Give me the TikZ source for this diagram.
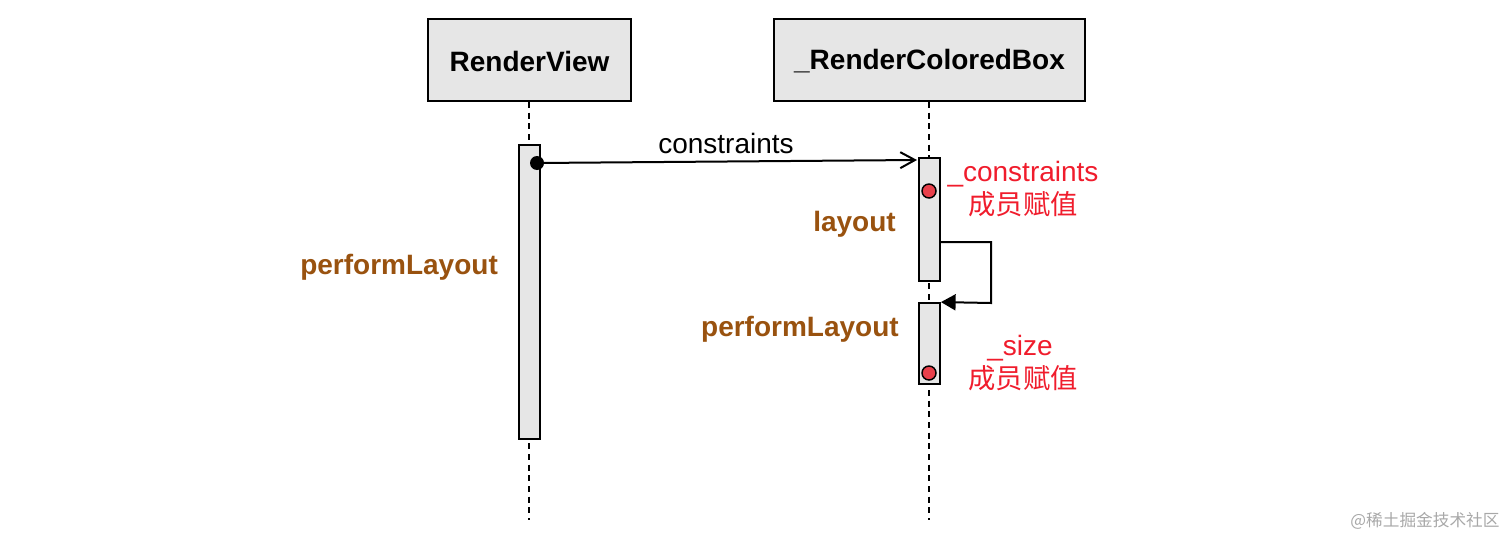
\documentclass[tikz,border=0pt]{standalone}
\usepackage{fontspec}
\setmainfont{Liberation Sans}
\newfontfamily\cjk{Noto Sans CJK SC}
\usetikzlibrary{fit,arrows.meta}
\definecolor{boxgray}{HTML}{E6E6E6}
\definecolor{brownlbl}{HTML}{99520F}
\definecolor{redlbl}{HTML}{F01C2C}
\definecolor{dotred}{HTML}{E8404B}
\definecolor{wmgray}{HTML}{A8A8A8}
\tikzset{
  head/.style={draw=black,fill=boxgray,line width=1.6pt,inner sep=0pt},
  act/.style={draw=black,fill=boxgray,line width=1.4pt,inner sep=0pt},
  life/.style={draw=black,line width=1.2pt,dash pattern=on 4.5pt off 3.5pt},
  msg/.style={draw=black,line width=1.5pt},
  bigtxt/.style={font=\fontsize{21}{25}\selectfont,inner sep=0pt},
  headtxt/.style={bigtxt,font=\fontsize{21}{25}\selectfont\bfseries},
  brown/.style={bigtxt,text=brownlbl,font=\fontsize{21}{25}\selectfont\bfseries},
  redtxt/.style={bigtxt,text=redlbl},
  redcjk/.style={bigtxt,text=redlbl,font=\fontsize{20.5}{25}\selectfont\cjk},
  reddot/.style={circle,draw=black,fill=dotred,line width=1.1pt,minimum size=10.5pt,inner sep=0pt},
  blackdot/.style={circle,fill=black,minimum size=10.5pt,inner sep=0pt},
}
\begin{document}
\begin{tikzpicture}[x=0.75pt,y=-0.75pt]
\useasboundingbox (0,0) rectangle (1512,539);
% heads
\node[head,fit={(428,19)(631,101)}] (rv) {};
\node[headtxt] at (529.5,61) (rvt) {RenderView};
\node[head,fit={(774,19)(1085,101)}] (rcb) {};
\node[headtxt] at (929.5,61) (rcbt) {\_RenderColoredBox};
% lifelines
\coordinate (rvend) at (529,520);
\coordinate (rcbend) at (929,520);
\draw[life] (rv.south -| rvend) -- (rvend);
\draw[life] (rcb.south -| rcbend) -- (rcbend);
% activations
\node[act,fit={(519,145)(540,439)}] (a1) {};
\node[act,fit={(919,158)(940,281)}] (a2) {};
\node[act,fit={(919,303)(940,384)}] (a3) {};
% message constraints
\node[blackdot] (d0) at (537,163) {};
\coordinate (m1) at (917,160);
\draw[msg,-{Straight Barb[length=11pt,width=12pt,line width=1.5pt]}] (d0.center) -- (m1);
\node[bigtxt] (ct) at (726,143) {constraints};
% self call
\coordinate (s0) at (940,242);
\coordinate (s1) at (991,242);
\coordinate (s2) at (991,303);
\draw[msg,-{Triangle[length=11pt,width=12pt]}] (s0) -- (s1) -- (s2) -- (a3.north east);
% red dots
\node[reddot] (r1) at (929,191) {};
\node[reddot] (r2) at (929,373) {};
% labels
\node[redtxt] (l1) at (1023,174) {\_constraints};
\node[redcjk] (l2) at (1023,204) {成员赋值};
\node[redtxt] (l3) at (1020,348) {\_size};
\node[redcjk] (l4) at (1023,378) {成员赋值};
\node[brown,anchor=east] (b1) at (896,224) {layout};
\node[brown,anchor=west] (b2) at (300,267) {performLayout};
\node[brown,anchor=east] (b3) at (899,329) {performLayout};
% watermark
\node[text=wmgray,font=\fontsize{12.5}{15}\selectfont\cjk,inner sep=0pt] (wm) at (1425,521) {@稀土掘金技术社区};
\end{tikzpicture}
\end{document}
